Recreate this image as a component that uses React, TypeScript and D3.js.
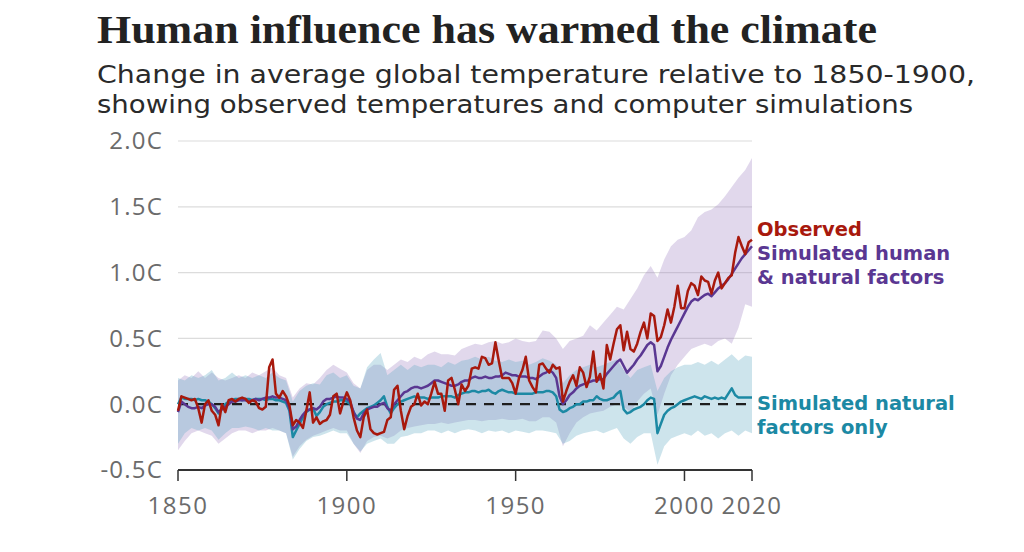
import React from "react";
import * as d3 from "d3";

// ---------- DATA ----------
const years: number[] = d3.range(1850, 2021);

const observed: number[] = [
  -0.05, 0.06, 0.05, 0.04, 0.03, 0.04, -0.03, -0.14, 0.0, 0.03,
  -0.05, -0.08, -0.16, 0.0, -0.06, 0.03, 0.04, 0.02, 0.04, 0.05,
  0.04, 0.01, 0.03, 0.02, -0.03, -0.04, -0.02, 0.28, 0.34, 0.08,
  0.05, 0.1, 0.06, -0.01, -0.16, -0.12, -0.14, -0.18, -0.05, 0.09,
  -0.14, -0.1, -0.15, -0.13, -0.12, -0.08, 0.06, 0.08, -0.07, 0.02,
  0.09, 0.03, -0.1, -0.2, -0.25, -0.1, -0.04, -0.19, -0.22, -0.23,
  -0.22, -0.21, -0.12, -0.1, 0.11, 0.14, -0.05, -0.19, -0.09, -0.02,
  0.0, 0.08, -0.01, 0.02, 0.0, 0.08, 0.17, 0.08, 0.08, -0.05,
  0.18, 0.2, 0.11, 0.0, 0.15, 0.1, 0.14, 0.27, 0.28, 0.27,
  0.36, 0.35, 0.3, 0.31, 0.47, 0.33, 0.2, 0.2, 0.2, 0.16,
  0.08, 0.2, 0.26, 0.36, 0.18, 0.13, 0.09, 0.3, 0.31, 0.27,
  0.24, 0.3, 0.27, 0.28, 0.02, 0.1, 0.17, 0.22, 0.14, 0.28,
  0.24, 0.13, 0.21, 0.4, 0.17, 0.23, 0.12, 0.45, 0.34, 0.46,
  0.57, 0.6, 0.41, 0.55, 0.42, 0.4, 0.46, 0.55, 0.62, 0.5,
  0.69, 0.67, 0.48, 0.51, 0.6, 0.72, 0.62, 0.74, 0.9, 0.73,
  0.73, 0.86, 0.92, 0.9, 0.83, 0.97, 0.94, 0.93, 0.84, 0.94,
  1.0, 0.88, 0.92, 0.96, 0.98, 1.15, 1.27, 1.2, 1.14, 1.23,
  1.25,
];

const simHuman: number[] = [
  -0.06, 0.02, 0.0, -0.02, -0.03, -0.03, -0.02, -0.03, -0.01, 0.0,
  0.0, -0.02, -0.06, -0.04, -0.02, 0.0, 0.02, 0.02, 0.03, 0.03,
  0.03, 0.02, 0.03, 0.04, 0.03, 0.04, 0.05, 0.05, 0.06, 0.05,
  0.05, 0.04, 0.03, -0.03, -0.19, -0.17, -0.12, -0.08, -0.05, -0.04,
  -0.03, -0.04, -0.02, 0.02, 0.04, 0.04, 0.05, 0.06, 0.05, 0.05,
  0.04, 0.02, -0.06, -0.11, -0.12, -0.07, -0.04, -0.03, -0.02, -0.02,
  0.0, 0.01, -0.03, -0.05, 0.0, 0.03, 0.06, 0.09, 0.1, 0.12,
  0.13, 0.13, 0.12, 0.13, 0.14, 0.16, 0.18, 0.18, 0.17, 0.16,
  0.15, 0.14, 0.14, 0.15, 0.17, 0.18, 0.18, 0.2, 0.21, 0.2,
  0.2, 0.21, 0.2, 0.2, 0.21, 0.21, 0.22, 0.24, 0.23, 0.22,
  0.22, 0.21, 0.21, 0.21, 0.2, 0.2, 0.19, 0.21, 0.23, 0.24,
  0.26, 0.24, 0.2, 0.06, 0.0, 0.03, 0.07, 0.09, 0.12, 0.14,
  0.15, 0.16, 0.17, 0.18, 0.18, 0.19, 0.19, 0.23, 0.26, 0.29,
  0.32, 0.34, 0.29, 0.24, 0.27, 0.3, 0.34, 0.37, 0.41, 0.45,
  0.47, 0.45, 0.25, 0.29, 0.36, 0.43, 0.49, 0.54, 0.59, 0.64,
  0.69, 0.74, 0.78, 0.8, 0.79, 0.81, 0.83, 0.84, 0.82, 0.85,
  0.88, 0.9, 0.92, 0.95, 0.99, 1.03, 1.07, 1.11, 1.14, 1.17,
  1.2,
];

const simNatural: number[] = [
  0.0, 0.05, 0.04, 0.04, 0.04, 0.03, 0.04, 0.03, 0.03, 0.02,
  0.0, -0.03, -0.07, -0.03, 0.0, 0.02, 0.03, 0.04, 0.04, 0.03,
  0.04, 0.04, 0.03, 0.04, 0.04, 0.04, 0.03, 0.04, 0.04, 0.03,
  0.03, 0.02, 0.01, -0.05, -0.25, -0.2, -0.15, -0.1, -0.06, -0.04,
  -0.03, -0.09, -0.06, -0.02, 0.0, 0.01, 0.02, 0.02, 0.03, 0.03,
  0.02, 0.0, -0.06, -0.1, -0.07, -0.05, -0.03, -0.02, -0.01, 0.01,
  0.03, 0.06, -0.02, -0.07, -0.03, 0.0, 0.02, 0.03, 0.04, 0.05,
  0.06, 0.05, 0.05, 0.05, 0.04, 0.05, 0.05, 0.05, 0.06, 0.06,
  0.06, 0.06, 0.05, 0.07, 0.08, 0.09, 0.09, 0.1, 0.1, 0.09,
  0.1, 0.1, 0.11, 0.09, 0.08, 0.1, 0.11, 0.1, 0.09, 0.09,
  0.08, 0.08, 0.08, 0.08, 0.08, 0.08, 0.09, 0.09, 0.09, 0.1,
  0.1, 0.09, 0.06, -0.04, -0.06, -0.05, -0.03, -0.02, 0.0, 0.0,
  0.02, 0.02, 0.03, 0.03, 0.06, 0.04, 0.03, 0.03, 0.04, 0.05,
  0.08, 0.1, -0.04, -0.07, -0.06, -0.04, -0.03, -0.02, 0.0, 0.03,
  0.05, 0.04, -0.22, -0.15, -0.08, -0.05, -0.03, -0.02, 0.0, 0.02,
  0.03, 0.04, 0.05, 0.06, 0.05, 0.04, 0.06, 0.05, 0.04, 0.05,
  0.04, 0.05, 0.04, 0.08, 0.12, 0.07, 0.05, 0.05, 0.05, 0.05,
  0.05,
];

// Uncertainty ranges, every second year 1850..2020
const bandYears: number[] = d3.range(1850, 2021, 2);

const humanHi: number[] = [
  0.18, 0.22, 0.2, 0.25, 0.2, 0.24, 0.2, 0.18, 0.2, 0.22,
  0.2, 0.24, 0.22, 0.25, 0.28, 0.22, 0.2, 0.05, 0.12, 0.16,
  0.15, 0.2, 0.26, 0.3, 0.27, 0.24, 0.16, 0.12, 0.26, 0.3,
  0.3, 0.26, 0.3, 0.34, 0.32, 0.36, 0.34, 0.38, 0.4, 0.38,
  0.38, 0.37, 0.42, 0.44, 0.46, 0.45, 0.47, 0.48, 0.46, 0.47,
  0.5, 0.48, 0.47, 0.48, 0.56, 0.55, 0.5, 0.42, 0.48, 0.5,
  0.52, 0.6, 0.56, 0.62, 0.68, 0.74, 0.72, 0.8, 0.88, 0.98,
  1.05, 0.96, 1.1, 1.2, 1.25, 1.27, 1.32, 1.42, 1.46, 1.48,
  1.52, 1.58, 1.65, 1.72, 1.78, 1.87,
];

const humanLo: number[] = [
  -0.35, -0.28, -0.22, -0.2, -0.22, -0.24, -0.3, -0.26, -0.22, -0.2,
  -0.2, -0.22, -0.2, -0.2, -0.18, -0.2, -0.22, -0.4, -0.32, -0.27,
  -0.24, -0.22, -0.2, -0.18, -0.2, -0.2, -0.3, -0.37, -0.28, -0.25,
  -0.24, -0.26, -0.24, -0.2, -0.18, -0.17, -0.16, -0.15, -0.15, -0.14,
  -0.15, -0.14, -0.13, -0.12, -0.12, -0.13, -0.12, -0.12, -0.11, -0.12,
  -0.12, -0.11, -0.13, -0.13, -0.1, -0.1, -0.14, -0.32, -0.22, -0.14,
  -0.1, -0.07, -0.06, -0.05, -0.02, 0.0, -0.02, -0.06, 0.02, 0.08,
  0.12, -0.08, 0.08, 0.22, 0.3, 0.36, 0.42, 0.44, 0.46, 0.44,
  0.48, 0.5, 0.46, 0.58, 0.76, 0.74,
];

const naturalHi: number[] = [
  0.2, 0.18, 0.22, 0.2, 0.22, 0.26, 0.18, 0.2, 0.24, 0.2,
  0.22, 0.2, 0.22, 0.2, 0.24, 0.2, 0.18, 0.02, 0.1, 0.14,
  0.16, 0.15, 0.22, 0.24, 0.2, 0.22, 0.14, 0.12, 0.28, 0.34,
  0.39, 0.22, 0.26, 0.3, 0.26, 0.3, 0.28, 0.3, 0.3, 0.28,
  0.32, 0.3, 0.33, 0.34, 0.36, 0.34, 0.36, 0.33, 0.32, 0.34,
  0.32, 0.33, 0.3, 0.32, 0.35, 0.33, 0.3, 0.16, 0.22, 0.26,
  0.28, 0.3, 0.28, 0.3, 0.32, 0.34, 0.26, 0.2, 0.26, 0.28,
  0.3, 0.1, 0.2, 0.25, 0.28, 0.3, 0.3, 0.32, 0.3, 0.33,
  0.3, 0.34, 0.38, 0.33, 0.37, 0.36,
];

const naturalLo: number[] = [
  -0.3, -0.22, -0.18, -0.2, -0.18, -0.2, -0.27, -0.22, -0.18, -0.18,
  -0.17, -0.18, -0.2, -0.18, -0.2, -0.2, -0.22, -0.42, -0.34, -0.28,
  -0.25, -0.24, -0.22, -0.2, -0.22, -0.22, -0.3, -0.36, -0.3, -0.28,
  -0.26, -0.3, -0.3, -0.25, -0.24, -0.22, -0.22, -0.2, -0.2, -0.22,
  -0.2, -0.22, -0.2, -0.19, -0.2, -0.22, -0.2, -0.21, -0.2, -0.22,
  -0.2, -0.21, -0.22, -0.2, -0.2, -0.21, -0.22, -0.3, -0.28, -0.24,
  -0.22, -0.21, -0.2, -0.22, -0.2, -0.18, -0.26, -0.3, -0.25, -0.22,
  -0.22, -0.46, -0.32, -0.26, -0.24, -0.22, -0.24, -0.2, -0.24, -0.22,
  -0.26, -0.22, -0.2, -0.24, -0.2, -0.22,
];

const yTicks: number[] = [-0.5, 0, 0.5, 1.0, 1.5, 2.0];
const yTickLabels: string[] = ["-0.5C", "0.0C", "0.5C", "1.0C", "1.5C", "2.0C"];
const xTicks: number[] = [1850, 1900, 1950, 2000, 2020];

const title = "Human influence has warmed the climate";
const subtitleLines: string[] = [
  "Change in average global temperature relative to 1850-1900,",
  "showing observed temperatures and computer simulations",
];
const subtitleWidths: number[] = [878, 816];
const humanLabel: string[] = ["Simulated human", "& natural factors"];
const naturalLabel: string[] = ["Simulated natural", "factors only"];

// ---------- STYLE ----------
const W = 1024;
const H = 552;
const RED = "#a8190d";
const PURPLE = "#5a3792";
const TEAL = "#1c89a4";
const SANS = "'Open Sans', 'Noto Sans', sans-serif";
const TIGHT_SANS = "'DejaVu Sans', 'Open Sans', sans-serif";

export default function App() {
  const x = d3.scaleLinear().domain([1850, 2020]).range([178, 752]);
  const y = d3.scaleLinear().domain([-0.5, 2.0]).range([470, 141]);

  const line = d3
    .line<number>()
    .x((_, i) => x(years[i]))
    .y((d) => y(d))
    .curve(d3.curveLinear);

  const band = (hi: number[], lo: number[]) =>
    d3
      .area<number>()
      .x((_, i) => x(bandYears[i]))
      .y0((_, i) => y(lo[i]))
      .y1((d) => y(d))(hi) || "";

  return (
    <svg
      width={W}
      height={H}
      viewBox={`0 0 ${W} ${H}`}
      style={{ position: "absolute", left: 0, top: 0, background: "#fff" }}
    >
      <rect x={0} y={0} width={W} height={H} fill="#fff" />
      {/* Titles */}
      <text
        x={97}
        y={43}
        fontFamily="'Liberation Serif', serif"
        fontWeight={700}
        fontSize={40}
        fill="#222"
        textLength={780}
        lengthAdjust="spacingAndGlyphs"
      >
        {title}
      </text>
      <text fontFamily={TIGHT_SANS} fontSize={24.5} fill="#2a2a2a">
        {subtitleLines.map((s, i) => (
          <tspan
            key={i}
            x={97}
            y={83 + i * 30}
            textLength={subtitleWidths[i]}
            lengthAdjust="spacingAndGlyphs"
          >
            {s}
          </tspan>
        ))}
      </text>

      {/* Gridlines and y labels */}
      {yTicks.map((t, i) => (
        <g key={t}>
          {t > 0 && (
            <line x1={178} x2={752} y1={y(t)} y2={y(t)} stroke="#dcdcdc" strokeWidth={1.2} />
          )}
          <text
            x={163}
            y={y(t)}
            dy="0.35em"
            textAnchor="end"
            fontFamily={SANS}
            fontSize={24}
            letterSpacing={1.2}
            fill="#6b6b6b"
          >
            {yTickLabels[i]}
          </text>
        </g>
      ))}

      {/* Bands */}
      <path d={band(humanHi, humanLo)} fill="#9a7fbf" fillOpacity={0.3} stroke="none" />
      <path d={band(naturalHi, naturalLo)} fill="#5aa6c0" fillOpacity={0.3} stroke="none" />

      {/* Zero dashed line */}
      <line
        x1={178}
        x2={752}
        y1={y(0)}
        y2={y(0)}
        stroke="#1e1e1e"
        strokeWidth={2.2}
        strokeDasharray="10 8"
      />

      {/* Lines */}
      <path d={line(simNatural) || ""} fill="none" stroke={TEAL} strokeWidth={2.5} strokeLinejoin="round" />
      <path d={line(simHuman) || ""} fill="none" stroke={PURPLE} strokeWidth={2.5} strokeLinejoin="round" />
      <path d={line(observed) || ""} fill="none" stroke={RED} strokeWidth={2.5} strokeLinejoin="round" />

      {/* X axis */}
      <line x1={178} x2={752} y1={y(-0.5)} y2={y(-0.5)} stroke="#333" strokeWidth={2} />
      {xTicks.map((t) => (
        <g key={t}>
          <line x1={x(t)} x2={x(t)} y1={y(-0.5)} y2={y(-0.5) + 11} stroke="#333" strokeWidth={1.5} />
          <text
            x={x(t)}
            y={514}
            textAnchor="middle"
            fontFamily={SANS}
            fontSize={24}
            letterSpacing={1.5}
            fill="#6b6b6b"
          >
            {t}
          </text>
        </g>
      ))}

      {/* Labels */}
      <g fontFamily={TIGHT_SANS} fontWeight={700} fontSize={19.5}>
        <text x={757} y={236} fill={RED}>Observed</text>
        <text fill={PURPLE}>
          {humanLabel.map((s, i) => (
            <tspan key={i} x={757} y={260 + i * 23.5}>{s}</tspan>
          ))}
        </text>
        <text fill={TEAL}>
          {naturalLabel.map((s, i) => (
            <tspan key={i} x={757} y={410 + i * 23.5}>{s}</tspan>
          ))}
        </text>
      </g>
    </svg>
  );
}
